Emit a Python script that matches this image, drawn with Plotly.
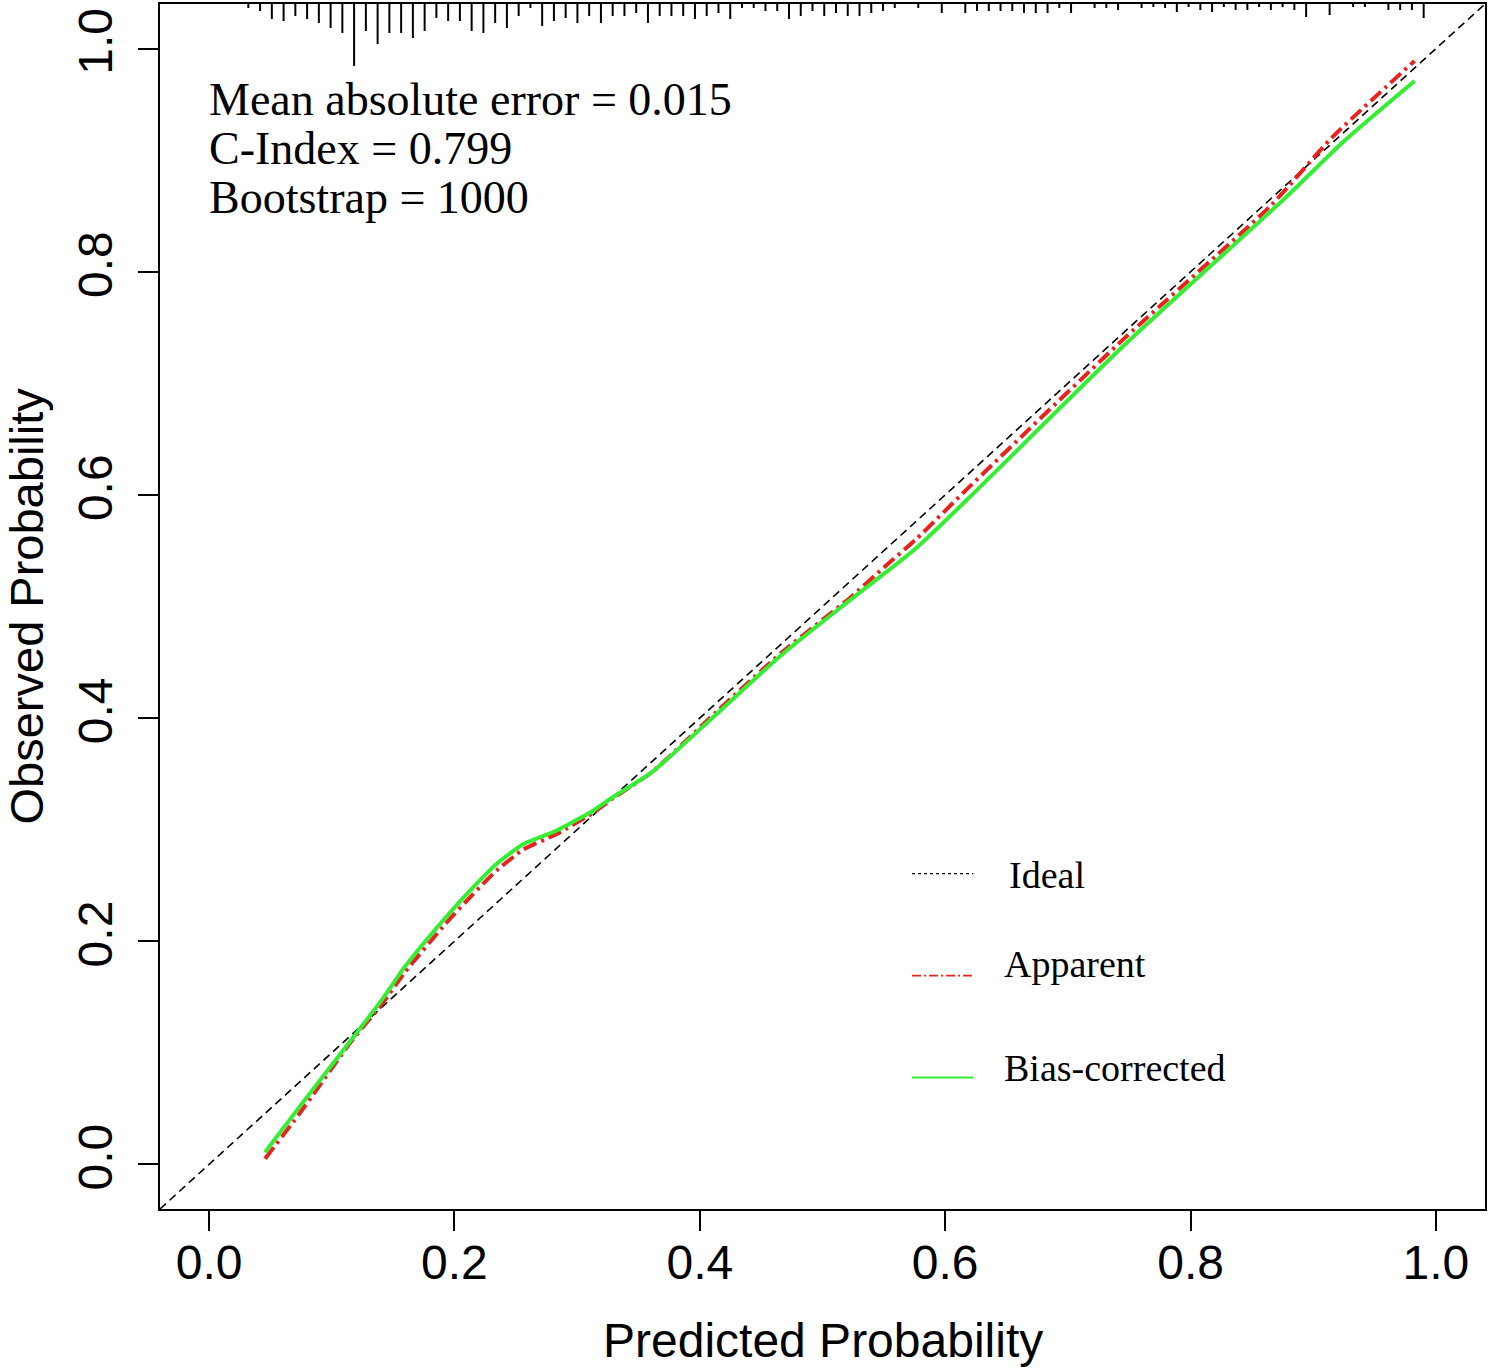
import numpy as np
import plotly.graph_objects as go

# ---------------- data ----------------
# Apparent calibration curve (red, dash-dot)
apparent_x = [0.0456, 0.074, 0.1175, 0.1405, 0.1595, 0.193, 0.215, 0.234, 0.256, 0.283,
              0.313, 0.329, 0.3615, 0.413, 0.467, 0.5216, 0.55, 0.576, 0.619, 0.7467,
              0.866, 0.915, 0.9826]
apparent_y = [0.005, 0.046, 0.1125, 0.143, 0.172, 0.216, 0.242, 0.263, 0.282, 0.296,
              0.315, 0.328, 0.352, 0.405, 0.459, 0.507, 0.535, 0.560, 0.6065, 0.741,
              0.860, 0.920, 0.989]

# Bias-corrected calibration curve (green, solid)
bias_x = [0.0456, 0.074, 0.1, 0.1405, 0.1595, 0.193, 0.215, 0.234, 0.256, 0.283,
          0.313, 0.329, 0.3615, 0.413, 0.467, 0.5216, 0.576, 0.619, 0.7467, 0.877,
          0.925, 0.9826]
bias_y = [0.011, 0.052, 0.089, 0.147, 0.177, 0.2215, 0.248, 0.269, 0.287, 0.299,
          0.317, 0.329, 0.352, 0.403, 0.457, 0.505, 0.552, 0.597, 0.735, 0.866,
          0.917, 0.971]

# Distribution of predicted probabilities (spike histogram at top), 101 bins
rug_start, rug_end = 0.032, 0.990
rug_counts = [4, 7, 15, 17, 12, 15, 19, 24, 29, 62, 27, 40, 29, 29, 34, 27, 14, 17, 17, 27,
              29, 19, 24, 12, 4, 22, 17, 14, 19, 12, 19, 12, 12, 9, 19,
              12, 12, 12, 15, 12, 9, 15, 4, 4, 7, 7, 15, 12, 7, 12, 9, 12, 12, 9, 7, 4,
              0, 4, 0, 9, 0, 9, 7, 7, 7, 7, 9, 9, 9, 4, 9, 0, 4, 4, 6, 0, 4,
              3, 4, 8, 3, 6, 8, 3, 6, 6, 3, 6, 3, 6, 13, 0, 11, 0, 3, 3, 0, 6, 6, 6, 14]

stats_lines = ["Mean absolute error = 0.015", "C-Index = 0.799", "Bootstrap = 1000"]
legend_labels = ["Ideal", "Apparent", "Bias-corrected"]

tick_vals = [0.0, 0.2, 0.4, 0.6, 0.8, 1.0]
tick_text = ["0.0", "0.2", "0.4", "0.6", "0.8", "1.0"]
x_title = "Predicted Probability"
y_title = "Observed Probability"

# ---------------- styling ----------------
AX_MIN, AX_MAX = -0.04, 1.04
SANS = "Liberation Sans, Arial, sans-serif"
SERIF = "Liberation Serif, Times New Roman, serif"
RED = "#E8231E"
GREEN = "#33EE33"
SPIKE_MAX = 0.0555

fig = go.Figure()

# Ideal diagonal across the plotting region
fig.add_shape(type="line", xref="x domain", yref="y domain", x0=0, y0=0, x1=1, y1=1,
              line=dict(color="black", width=1.6, dash="8px,5px"), layer="below")

# spike histogram
n = len(rug_counts)
rx = np.linspace(rug_start, rug_end, n)
scale = SPIKE_MAX / max(rug_counts)
sx, sy = [], []
for xv, c in zip(rx, rug_counts):
    if c <= 0:
        continue
    sx += [xv, xv, None]
    sy += [AX_MAX, AX_MAX - c * scale, None]
fig.add_trace(go.Scatter(x=sx, y=sy, mode="lines", line=dict(color="black", width=2),
                         hoverinfo="skip", showlegend=False))

# calibration curves
fig.add_trace(go.Scatter(x=apparent_x, y=apparent_y, mode="lines",
                         line=dict(color=RED, width=4, dash="14px,5px,3px,5px", shape="spline", smoothing=0.6),
                         showlegend=False))
fig.add_trace(go.Scatter(x=bias_x, y=bias_y, mode="lines",
                         line=dict(color=GREEN, width=4, shape="spline", smoothing=0.6),
                         showlegend=False))

# manual legend
leg_x0, leg_x1 = 0.573, 0.623
leg_line_y = [0.2605, 0.1692, 0.0779]
leg_text_y = [0.2596, 0.180, 0.0868]
leg_text_x = [0.650, 0.646, 0.646]
leg_styles = [dict(color="black", width=1.2, dash="dot"),
              dict(color=RED, width=1.8, dash="9px,3px,2px,3px"),
              dict(color=GREEN, width=2)]
for ly, ty, tx, lab, st in zip(leg_line_y, leg_text_y, leg_text_x, legend_labels, leg_styles):
    fig.add_trace(go.Scatter(x=[leg_x0, leg_x1], y=[ly, ly], mode="lines", line=st,
                             hoverinfo="skip", showlegend=False))
    fig.add_annotation(x=tx, y=ty, xref="x", yref="y", text=lab, showarrow=False,
                       xanchor="left", yanchor="middle",
                       font=dict(family=SERIF, size=38, color="black"))

# statistics text
for txt, yv in zip(stats_lines, [0.9545, 0.9106, 0.8667]):
    fig.add_annotation(x=-0.002, y=yv, xref="x", yref="y", text=txt, showarrow=False,
                       xanchor="left", yanchor="middle",
                       font=dict(family=SERIF, size=46, color="black"))

# axis titles
fig.add_annotation(x=0.5, y=0, xref="paper", yref="paper", text=x_title, showarrow=False,
                   xanchor="center", yanchor="middle", yshift=-131,
                   font=dict(family=SANS, size=48, color="black"))
fig.add_annotation(x=0, y=0.5, xref="paper", yref="paper", text=y_title, showarrow=False,
                   xanchor="center", yanchor="middle", xshift=-134, textangle=-90,
                   font=dict(family=SANS, size=47, color="black"))

axis_common = dict(range=[AX_MIN, AX_MAX], tickvals=tick_vals, ticktext=tick_text,
                   ticks="outside", ticklen=20, tickwidth=1.5, tickcolor="black",
                   showline=True, linecolor="black", linewidth=2, mirror=True,
                   showgrid=False, zeroline=False,
                   tickfont=dict(family=SANS, size=48, color="black"))
fig.update_xaxes(**axis_common, ticklabelstandoff=-10)
fig.update_yaxes(**axis_common, tickangle=-90, ticklabelstandoff=7)

fig.update_layout(width=1489, height=1369, margin=dict(l=160, r=2, t=2, b=160),
                  paper_bgcolor="white", plot_bgcolor="white", showlegend=False)

fig.write_html("out.html", config={"displayModeBar": False},
               post_script="document.body.style.margin='0';document.body.style.padding='0';")
